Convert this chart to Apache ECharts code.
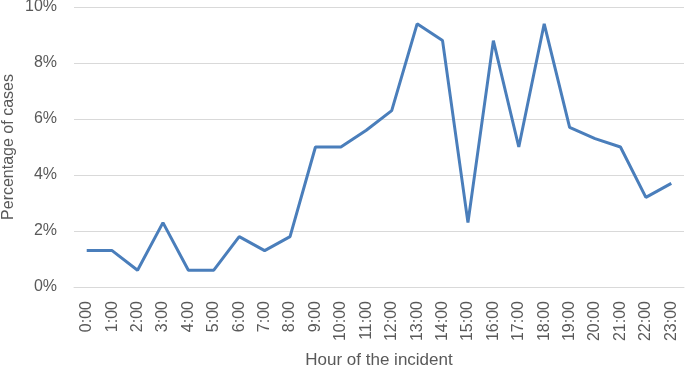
<!DOCTYPE html>
<html>
<head>
<meta charset="utf-8">
<script src="https://cdn.jsdelivr.net/npm/echarts@6/dist/echarts.min.js"></script>
<style>html,body{margin:0;padding:0;background:#fff}#c{width:685px;height:367px}</style>
</head>
<body>
<div id="c"></div>
<script>
const hours = ["0:00","1:00","2:00","3:00","4:00","5:00","6:00","7:00","8:00","9:00","10:00","11:00","12:00","13:00","14:00","15:00","16:00","17:00","18:00","19:00","20:00","21:00","22:00","23:00"];
const percentCases = [1.3,1.3,0.6,2.3,0.6,0.6,1.8,1.3,1.8,5.0,5.0,5.6,6.3,9.4,8.8,2.3,8.8,5.0,9.4,5.7,5.3,5.0,3.2,3.7];
const yTicks = {min: 0, max: 10, interval: 2};

const chart = echarts.init(document.getElementById('c'));
const font = '"Liberation Sans", Arial, sans-serif';
chart.setOption({
  animation: false,
  grid: {left: 74, right: 1, top: 7, bottom: 80, containLabel: false, outerBoundsMode: 'none'},
  xAxis: {
    type: 'category',
    data: hours,
    boundaryGap: true,
    name: 'Hour of the incident',
    nameLocation: 'middle',
    nameGap: 65,
    nameMoveOverlap: false,
    nameTextStyle: {color: '#595959', fontSize: 17, fontFamily: font},
    axisLine: {lineStyle: {color: '#d9d9d9', width: 1}},
    axisTick: {show: false},
    axisLabel: {rotate: 90, color: '#595959', fontSize: 16, fontFamily: font, margin: 14, interval: 0}
  },
  yAxis: {
    type: 'value',
    min: yTicks.min, max: yTicks.max, interval: yTicks.interval,
    name: 'Percentage of cases',
    nameLocation: 'middle',
    nameGap: 57,
    nameMoveOverlap: false,
    nameTextStyle: {color: '#595959', fontSize: 16, fontFamily: font},
    axisLine: {show: false},
    axisTick: {show: false},
    splitLine: {lineStyle: {color: '#d9d9d9', width: 1}},
    axisLabel: {formatter: '{value}%', color: '#595959', fontSize: 16, fontFamily: font, margin: 17}
  },
  series: [{
    type: 'line',
    data: percentCases,
    symbol: 'none',
    lineStyle: {color: '#4a7ebb', width: 3},
    itemStyle: {color: '#4a7ebb'}
  }]
});
</script>
</body>
</html>
